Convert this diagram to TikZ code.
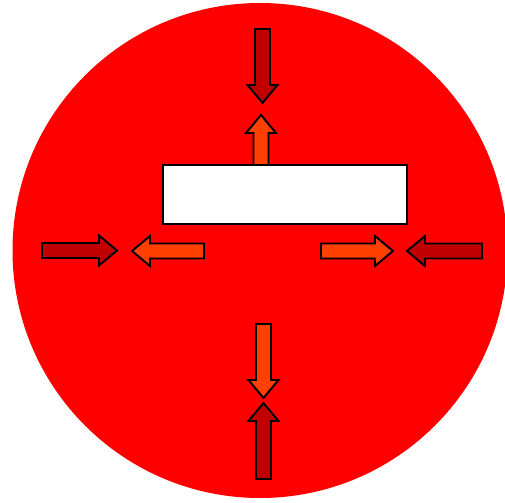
\documentclass[tikz,border=0pt]{standalone}
\usetikzlibrary{calc}
\definecolor{discred}{RGB}{255,0,0}
\definecolor{pushdark}{RGB}{192,0,0}
\definecolor{pushorange}{RGB}{255,64,0}

% block arrow from tail #2 to tip #3
\newcommand{\blockarrow}[3]{%
  \coordinate (ba-t) at (#2);
  \coordinate (ba-p) at (#3);
  \coordinate (ba-h) at ($(ba-p)!0.36cm!(ba-t)$);
  \draw[#1] ($(ba-t)!0.15cm!90:(ba-p)$) -- ($(ba-h)!0.15cm!-90:(ba-t)$)
    -- ($(ba-h)!0.30cm!-90:(ba-t)$) -- (ba-p)
    -- ($(ba-h)!0.30cm!90:(ba-t)$) -- ($(ba-h)!0.15cm!90:(ba-t)$)
    -- ($(ba-t)!0.15cm!-90:(ba-p)$) -- cycle;
}

\begin{document}
\begin{tikzpicture}[x=0.02cm, y=-0.02cm,
    inward/.style={fill=pushdark, draw=black, line width=1.1pt, line join=miter},
    outward/.style={fill=pushorange, draw=black, line width=1.1pt, line join=miter}]
    \useasboundingbox (0,0) rectangle (505,503);
    % Disc
    \fill[discred] (260,250.5) circle (247.5);

    % Plate
    \draw[fill=white, line width=1.3pt] (163,165) rectangle (407,224);

    % Inward arrows
    \blockarrow{inward}{262.5,29}{262.5,103}
    \blockarrow{inward}{42,250.5}{117,250.5}
    \blockarrow{inward}{482,251}{407,251}
    \blockarrow{inward}{263.5,479}{263.5,403}

    % Outward arrows
    \blockarrow{outward}{261,165}{261,115}
    \blockarrow{outward}{204,251}{132,251}
    \blockarrow{outward}{321,251}{393,251}
    \blockarrow{outward}{263.5,324}{263.5,398}
\end{tikzpicture}
\end{document}
